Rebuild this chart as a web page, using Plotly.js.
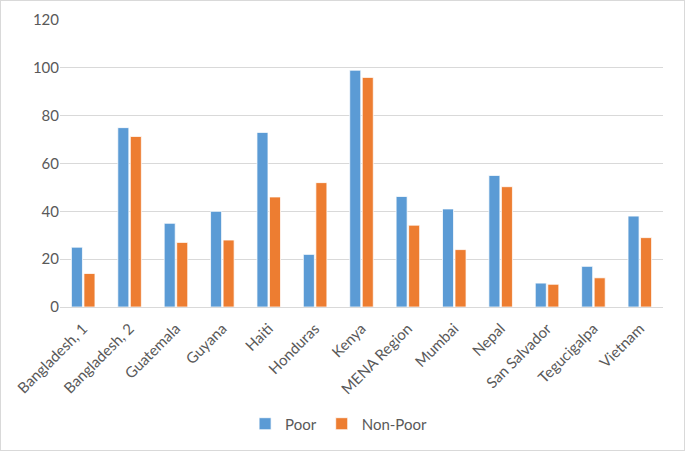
<!DOCTYPE html>
<html>
<head>
<meta charset="utf-8">
<script src="https://cdn.plot.ly/plotly-3.0.1.min.js"></script>
<style>
  html, body { margin: 0; padding: 0; background: #fff; }
  #chart { width: 683px; height: 449px; border: 1px solid #d9d9d9; }
</style>
</head>
<body>
<div id="chart"></div>
<script>
const categories = ["Bangladesh, 1", "Bangladesh, 2", "Guatemala", "Guyana", "Haiti", "Honduras", "Kenya", "MENA Region", "Mumbai", "Nepal", "San Salvador", "Tegucigalpa", "Vietnam"];
const poor = [25, 75, 35, 40, 73, 22, 99, 46.2, 41, 55, 10, 17, 38];
const nonPoor = [14, 71.3, 27, 28, 46, 52, 96, 34.2, 24, 50.3, 9.5, 12.2, 29];
const yTicks = [0, 20, 40, 60, 80, 100, 120];

const fam = "Lato, 'Open Sans', sans-serif";
const grey = "#595959";

const traces = [
  { type: "bar", name: "Poor", x: categories, y: poor,
    marker: { color: "#5B9BD5", line: { color: "#ffffff", width: 0.75 } } },
  { type: "bar", name: "Non-Poor", x: categories, y: nonPoor,
    marker: { color: "#ED7D31", line: { color: "#ffffff", width: 0.75 } } }
];

const layout = {
  width: 683, height: 449,
  margin: { l: 59, r: 21, t: 19, b: 143, autoexpand: false },
  paper_bgcolor: "#ffffff", plot_bgcolor: "#ffffff",
  font: { family: fam, size: 14, color: grey },
  barmode: "group",
  bargap: 0.46,
  bargroupgap: 0.12,
  showlegend: true,
  legend: { orientation: "h", x: 0.462, xanchor: "center", yref: "container", y: 0.058, yanchor: "middle",
            itemwidth: 30, tracegroupgap: 0,
            font: { family: fam, size: 15, color: grey } },
  xaxis: { type: "category", tickangle: -45, showgrid: false, showline: true,
           linecolor: "#d9d9d9", linewidth: 1, ticks: "", ticklabelstandoff: 6,
           tickfont: { family: fam, size: 15, color: grey }, automargin: false },
  yaxis: { range: [0, 120], tickvals: yTicks, showgrid: true, gridcolor: "#d9d9d9",
           gridwidth: 1, zeroline: false, showline: false, ticks: "", ticklen: 0,
           tickfont: { family: fam, size: 15, color: grey }, automargin: false }
};

Plotly.newPlot("chart", traces, layout, { displayModeBar: false, staticPlot: true });
</script>
</body>
</html>
